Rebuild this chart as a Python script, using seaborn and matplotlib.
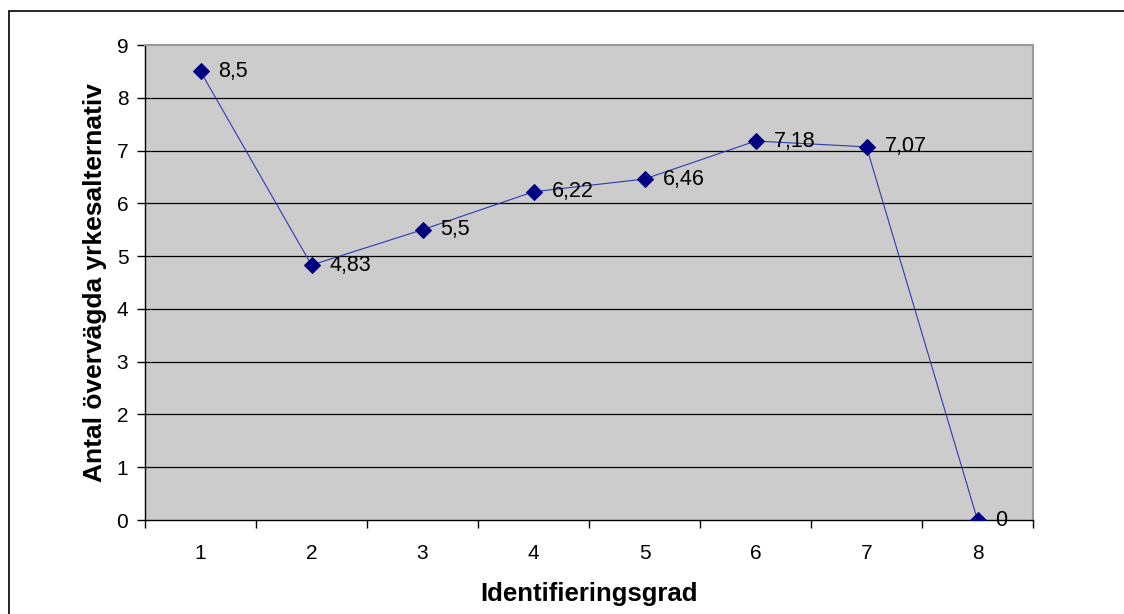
import numpy as np
import pandas as pd
import matplotlib
matplotlib.use("Agg")
import matplotlib.pyplot as plt
import seaborn as sns
from matplotlib.patches import Rectangle

# data
grad = [1, 2, 3, 4, 5, 6, 7, 8]
antal = [8.5, 4.83, 5.5, 6.22, 6.46, 7.18, 7.07, 0]
etiketter = ["8,5", "4,83", "5,5", "6,22", "6,46", "7,18", "7,07", "0"]

df = pd.DataFrame({"grad": grad, "antal": antal})

sns.set_theme(style="white")
plt.rcParams['font.family'] = ['Liberation Sans', 'DejaVu Sans']
plt.rcParams['text.color'] = 'black'
plt.rcParams['axes.labelcolor'] = 'black'
plt.rcParams['xtick.color'] = 'black'
plt.rcParams['ytick.color'] = 'black'

fig = plt.figure(figsize=(11.24, 6.14), dpi=100)
ax = fig.add_axes([145/1124, 1 - 520/614, (1033-145)/1124, (520-45)/614])
ax.set_facecolor('#cccccc')

# grid lines at each integer
for yy in range(1, 9):
    ax.axhline(yy, color='black', lw=0.9, zorder=1)

sns.lineplot(data=df, x="grad", y="antal", ax=ax, color='#2d3bb0', lw=0.8,
             marker='D', markersize=8, markerfacecolor='#000080',
             markeredgecolor='#000080', zorder=3)

for x, y, t in zip(grad, antal, etiketter):
    ax.annotate(t, (x, y), xytext=(13, 0), textcoords='offset points',
                ha='left', va='center', fontsize=15.5, color='black', zorder=4)

ax.set_xlim(0.5, 8.5)
ax.set_ylim(0, 9)
ax.set_yticks(range(0, 10))
ax.set_xticks(grad)
ax.set_xticks(np.arange(0.5, 9, 1), minor=True)
ax.tick_params(axis='x', which='major', length=0, pad=17, labelsize=15)
ax.tick_params(axis='x', which='minor', length=6, width=1, color='black', direction='out', bottom=True)
ax.tick_params(axis='y', length=6, width=1, color='black', direction='out', left=True, pad=6, labelsize=15)

for s in ['top', 'right']:
    ax.spines[s].set_color('#999999')
    ax.spines[s].set_linewidth(1.5)
for s in ['left', 'bottom']:
    ax.spines[s].set_color('black')
    ax.spines[s].set_linewidth(1)

ax.set_xlabel("Identifieringsgrad", fontsize=18.5, fontweight='bold', labelpad=14)
ax.set_ylabel("Antal övervägda yrkesalternativ", fontsize=19, fontweight='bold', labelpad=7)

# outer chart border
fig.patches.append(Rectangle((8.5/1124, -0.1), 1.2, 1 - 11/614 + 0.1,
                             transform=fig.transFigure, fill=False, ec='black', lw=1.2))

fig.savefig("out.png", dpi=100)
